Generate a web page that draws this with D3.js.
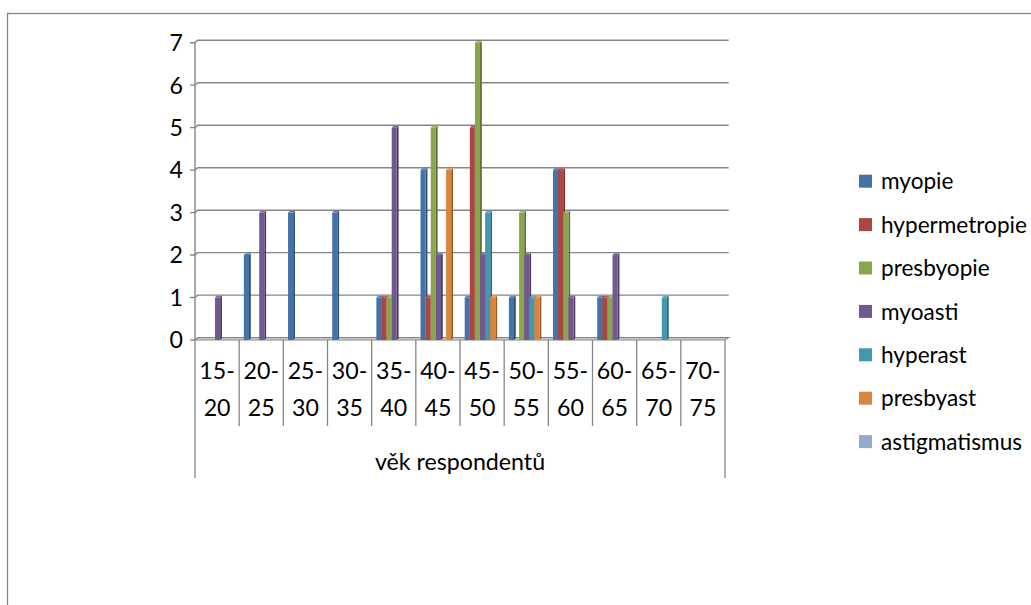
<!DOCTYPE html>
<html>
<head>
<meta charset="utf-8">
<script src="https://cdn.jsdelivr.net/npm/d3@7"></script>
<style>
  body { margin: 0; background: #fff; }
  svg { display: block; }
  text { font-family: Lato, "Open Sans", sans-serif; fill: #000; }
</style>
</head>
<body>
<svg id="chart" width="1031" height="605"></svg>
<script>
// Age groups of the respondents (x categories)
const categories = ["15-20", "20-25", "25-30", "30-35", "35-40", "40-45",
                    "45-50", "50-55", "55-60", "60-65", "65-70", "70-75"];

// Diagnosis series, counts per age group
const seriesNames = ["myopie", "hypermetropie", "presbyopie", "myoasti",
                     "hyperast", "presbyast", "astigmatismus"];
const myopie        = [0, 2, 3, 3, 1, 4, 1, 1, 4, 1, 0, 0];
const hypermetropie = [0, 0, 0, 0, 1, 1, 5, 0, 4, 1, 0, 0];
const presbyopie    = [0, 0, 0, 0, 1, 5, 7, 3, 3, 1, 0, 0];
const myoasti       = [1, 3, 0, 0, 5, 2, 2, 2, 1, 2, 0, 0];
const hyperast      = [0, 0, 0, 0, 0, 0, 3, 1, 0, 0, 1, 0];
const presbyast     = [0, 0, 0, 0, 0, 4, 1, 1, 0, 0, 0, 0];
const astigmatismus = [0, 0, 0, 0, 0, 0, 0, 0, 0, 0, 0, 0];
const seriesValues = [myopie, hypermetropie, presbyopie, myoasti,
                      hyperast, presbyast, astigmatismus];
const seriesColors = ["#4572A7", "#AA4643", "#89A54E", "#71588F",
                      "#4198AF", "#DB843D", "#93A9CF"];

const axisTitle = "věk respondentů";
const yTicks = [0, 1, 2, 3, 4, 5, 6, 7];

// ---- layout ----
const svg = d3.select("#chart");
const gridColor = "#868686";
const fontSize = 23.2;
const legendFontSize = 22.6;

const plot = { left: 195, right: 725, top: 42.7, bottom: 340 };
const depth = { dx: 2.7, dy: -2.4 };   // offset of the back wall
const barDepth = 1.8;                    // depth of each column

// outer chart frame
svg.append("rect")
  .attr("x", 7.5).attr("y", 13.5)
  .attr("width", 1100).attr("height", 700)
  .attr("fill", "#fff")
  .attr("stroke", gridColor).attr("stroke-width", 1.3);

const x0 = d3.scaleBand().domain(categories)
  .range([plot.left, plot.right]).paddingInner(0).paddingOuter(0);
const clusterGap = 8.4;
const x1 = d3.scaleBand().domain(d3.range(seriesNames.length))
  .range([clusterGap / 2 + 0.5, x0.bandwidth() - clusterGap / 2 + 0.5]);
const y = d3.scaleLinear().domain([0, 7]).range([plot.bottom, plot.top]);

// floor
const floor = svg.append("g");
floor.append("path")
  .attr("d", d3.line()([
    [plot.left, plot.bottom],
    [plot.left + depth.dx, plot.bottom + depth.dy],
    [plot.right + depth.dx + 1, plot.bottom + depth.dy],
    [plot.right, plot.bottom]
  ]) + "Z")
  .attr("fill", "#d9d9d9")
  .attr("stroke", gridColor).attr("stroke-width", 1.1);

// gridlines on the back wall, with short 3D connectors to the front ticks
const grid = svg.append("g");
yTicks.filter(t => t > 0).forEach(t => {
  const yf = y(t), yb = y(t) + depth.dy;
  grid.append("path")
    .attr("d", d3.line()([
      [plot.left - 5, yf], [plot.left, yf],
      [plot.left + depth.dx, yb], [plot.right + depth.dx + 1, yb]
    ]))
    .attr("fill", "none")
    .attr("stroke", gridColor).attr("stroke-width", 1.4);
});
grid.append("line")
  .attr("x1", plot.left - 5).attr("x2", plot.left)
  .attr("y1", y(0)).attr("y2", y(0))
  .attr("stroke", gridColor).attr("stroke-width", 1.4);

// vertical axis line
svg.append("line")
  .attr("x1", plot.left).attr("x2", plot.left)
  .attr("y1", y(7)).attr("y2", y(0))
  .attr("stroke", gridColor).attr("stroke-width", 1.4);

// y tick labels
svg.append("g").selectAll("text").data(yTicks).join("text")
  .attr("x", 183).attr("y", d => y(d))
  .attr("dy", "0.36em")
  .attr("text-anchor", "end")
  .attr("font-size", fontSize)
  .text(d => d);

// columns (front face, right side face, top face)
const bars = svg.append("g");
categories.forEach((cat, ci) => {
  seriesValues.forEach((vals, si) => {
    const v = vals[ci];
    if (!v) return;
    const c = d3.color(seriesColors[si]);
    const xL = x0(cat) + x1(si);
    const w = x1.bandwidth();
    const yT = y(v), yB = y(0);
    const dx = barDepth, dy = -barDepth;
    const g = bars.append("g");
    g.append("path")
      .attr("d", d3.line()([[xL + w, yT], [xL + w + dx, yT + dy],
                            [xL + w + dx, yB + dy], [xL + w, yB]]) + "Z")
      .attr("fill", c.darker(1.1));
    g.append("path")
      .attr("d", d3.line()([[xL, yT], [xL + dx, yT + dy],
                            [xL + w + dx, yT + dy], [xL + w, yT]]) + "Z")
      .attr("fill", c.brighter(0.35));
    g.append("rect")
      .attr("x", xL).attr("y", yT)
      .attr("width", w).attr("height", yB - yT)
      .attr("fill", c);
  });
});

// category label grid
const labels = svg.append("g");
const bounds = categories.map(c => x0(c)).concat([plot.right]);
bounds.forEach((bx, i) => {
  const outer = i === 0 || i === bounds.length - 1;
  labels.append("line")
    .attr("x1", bx).attr("x2", bx)
    .attr("y1", plot.bottom).attr("y2", outer ? 478 : 426)
    .attr("stroke", gridColor).attr("stroke-width", 1.3);
});

categories.forEach(cat => {
  const [a, b] = cat.split("-");
  const cx = x0(cat) + x0.bandwidth() / 2;
  const t = labels.append("text")
    .attr("text-anchor", "middle")
    .attr("font-size", fontSize);
  t.append("tspan").attr("x", cx).attr("y", 379).text(a + "-");
  t.append("tspan").attr("x", cx).attr("y", 416).text(b);
});

labels.append("text")
  .attr("x", (plot.left + plot.right) / 2).attr("y", 470)
  .attr("text-anchor", "middle")
  .attr("font-size", fontSize)
  .text(axisTitle);

// legend
const legend = svg.append("g");
seriesNames.forEach((name, i) => {
  const cy = 181.2 + i * 43.4;
  legend.append("rect")
    .attr("x", 859).attr("y", cy - 6.5)
    .attr("width", 13).attr("height", 13)
    .attr("fill", seriesColors[i]);
  legend.append("text")
    .attr("x", 881).attr("y", cy)
    .attr("dy", "0.36em")
    .attr("font-size", legendFontSize)
    .text(name);
});
</script>
</body>
</html>
